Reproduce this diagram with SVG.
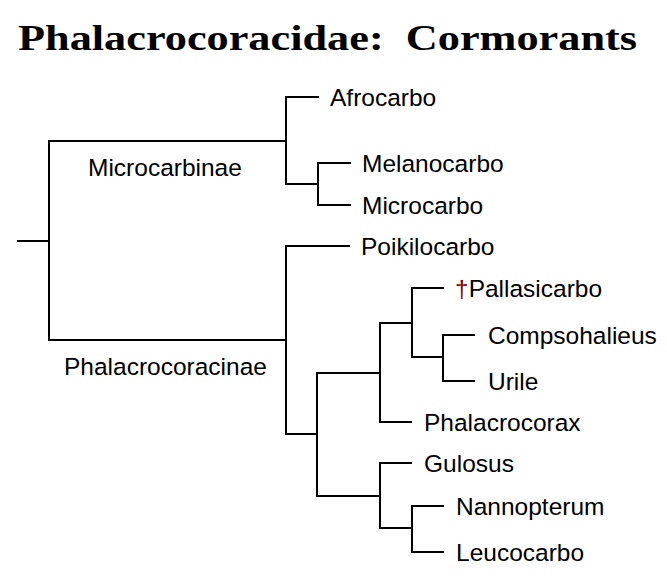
<svg xmlns="http://www.w3.org/2000/svg" width="667" height="576" viewBox="0 0 667 576">
<style>
.e{fill:none;stroke:#000;stroke-width:2;stroke-linecap:square}
.t{font-family:"Liberation Sans",Arial,sans-serif;font-size:24.5px;fill:#000}
.ttl{font-family:"Liberation Serif",serif;font-weight:bold;font-size:36px;fill:#000}
.d{fill:#8b0000}
</style>
<rect width="667" height="576" fill="#fff"/>
<text class="ttl" x="18" y="50" textLength="619" lengthAdjust="spacingAndGlyphs" xml:space="preserve">Phalacrocoracidae:  Cormorants</text>
<g id="connectors">
<path class="e" d="M18,241H49M49,141V340M49,141H286M49,340H286"/>
<path class="e" d="M286,97V184M286,97H318M286,184H318M318,163V205M318,163H350M318,205H350"/>
<path class="e" d="M286,246V434M286,246H349M286,434H317M317,373V496"/>
<path class="e" d="M317,373H380M380,323V422M380,422H411M380,323H412M412,288V357M412,288H443M412,357H443M443,335V381M443,335H474M443,381H474"/>
<path class="e" d="M317,496H380M380,463V528M380,463H411M380,528H412M412,506V552M412,506H443M412,552H443"/>
</g>
<g id="clade-microcarbinae"><text class="t" x="88" y="176">Microcarbinae</text></g>
<g id="clade-phalacrocoracinae"><text class="t" x="64" y="375">Phalacrocoracinae</text></g>
<g id="afrocarbo"><text class="t" x="330" y="106">Afrocarbo</text></g>
<g id="melanocarbo"><text class="t" x="362" y="172">Melanocarbo</text></g>
<g id="microcarbo"><text class="t" x="362" y="214">Microcarbo</text></g>
<g id="poikilocarbo"><text class="t" x="361" y="255">Poikilocarbo</text></g>
<g id="pallasicarbo"><text class="t" x="455" y="297"><tspan class="d">†</tspan>Pallasicarbo</text></g>
<g id="compsohalieus"><text class="t" x="488" y="344">Compsohalieus</text></g>
<g id="urile"><text class="t" x="488" y="390">Urile</text></g>
<g id="phalacrocorax"><text class="t" x="424" y="431">Phalacrocorax</text></g>
<g id="gulosus"><text class="t" x="424" y="472">Gulosus</text></g>
<g id="nannopterum"><text class="t" x="456" y="515">Nannopterum</text></g>
<g id="leucocarbo"><text class="t" x="456" y="561">Leucocarbo</text></g>
</svg>
